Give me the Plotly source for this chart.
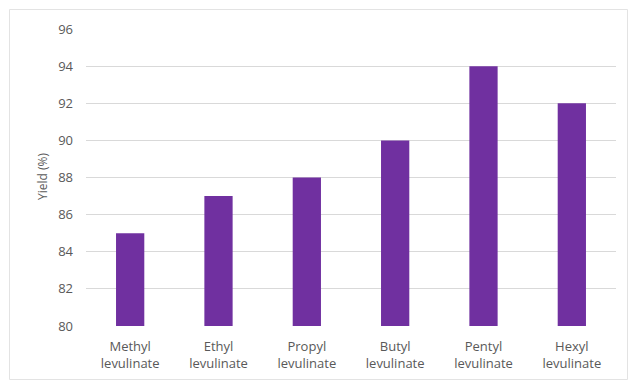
import plotly.graph_objects as go

categories = ["Methyl<br>levulinate", "Ethyl<br>levulinate", "Propyl<br>levulinate",
              "Butyl<br>levulinate", "Pentyl<br>levulinate", "Hexyl<br>levulinate"]
yield_pct = [85, 87, 88, 90, 94, 92]
y_ticks = [80, 82, 84, 86, 88, 90, 92, 94, 96]

FONT = "Open Sans"
GRAY = "#595959"

fig = go.Figure(go.Bar(x=categories, y=yield_pct, marker=dict(color="#7030A0", line=dict(width=0)),
                       width=0.32))

W, H = 631, 380
L, R, T, B = 86, 15, 29, 54
pw, ph = W - L - R, H - T - B

fig.update_layout(
    width=W, height=H,
    margin=dict(l=L, r=R, t=T, b=B),
    paper_bgcolor="white", plot_bgcolor="white",
    showlegend=False,
    font=dict(family=FONT, size=12, color=GRAY),
    xaxis=dict(showgrid=False, showline=False, ticks="", tickfont=dict(size=13, color=GRAY),
               ticklabelstandoff=11, automargin=False),
    yaxis=dict(range=[80, 96], tickvals=y_ticks, showgrid=True, gridcolor="#D9D9D9", gridwidth=1,
               zeroline=False, showline=False, ticks="", tickfont=dict(size=13, color=GRAY),
               ticklabelstandoff=12, automargin=False),
    shapes=[dict(type="rect", xref="paper", yref="paper",
                 x0=(9.5 - L) / pw, x1=(627.5 - L) / pw,
                 y0=(H - B - 379.5) / ph, y1=(H - B - 9.5) / ph,
                 line=dict(color="#E3E3E3", width=1), fillcolor="rgba(0,0,0,0)", layer="below")],
    annotations=[dict(text="Yield (%)", xref="paper", yref="paper",
                      x=(42 - L) / pw, y=(H - B - 177) / ph, showarrow=False, textangle=-90,
                      font=dict(family=FONT, size=12, color=GRAY), xanchor="center", yanchor="middle")],
)

fig.write_html("out.html")
